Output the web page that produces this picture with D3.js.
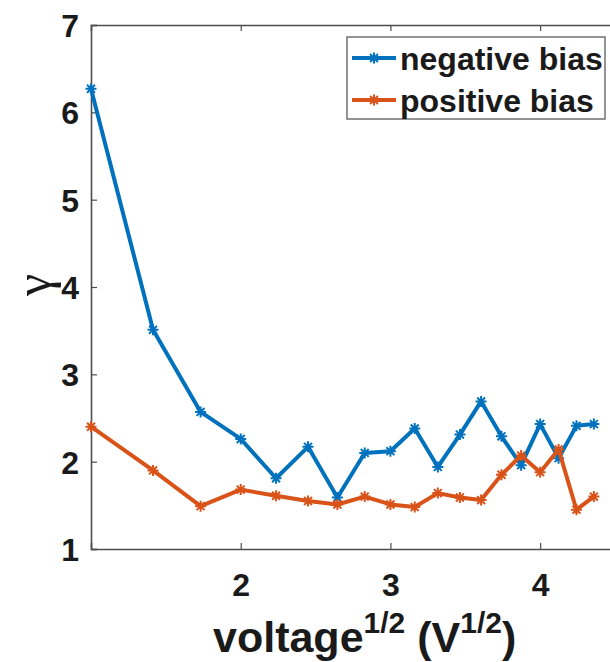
<!DOCTYPE html>
<html>
<head>
<meta charset="utf-8">
<script src="https://cdn.jsdelivr.net/npm/d3@7"></script>
<style>
  html, body { margin: 0; padding: 0; background: #fff; overflow: hidden; }
  svg { display: block; }
</style>
</head>
<body>
<svg id="chart" width="610" height="662"></svg>
<script>
// ---- data ----
const voltages = [1,2,3,4,5,6,7,8,9,10,11,12,13,14,15,16,17,18,19];
const negativeBias = [6.27,3.51,2.57,2.26,1.81,2.17,1.59,2.10,2.12,2.38,1.94,2.31,2.69,2.29,1.96,2.43,2.04,2.41,2.43];
const positiveBias = [2.40,1.90,1.49,1.68,1.61,1.55,1.51,1.60,1.51,1.48,1.64,1.59,1.56,1.85,2.07,1.88,2.14,1.45,1.60];
const seriesNames = ["negative bias", "positive bias"];
const seriesColors = ["#0072BD", "#D95319"];
const xTicks = [2, 3, 4];
const yTicks = [1, 2, 3, 4, 5, 6, 7];

const svg = d3.select("#chart");
const mLeft = 91, mRight = 615, mTop = 25, mBottom = 549;
const FONT = "Liberation Sans, Arial, sans-serif";
const TXT = "#1a1a1a";

const x = d3.scaleLinear().domain([1, 4.5]).range([mLeft, mRight]);
const y = d3.scaleLinear().domain([1, 7]).range([mBottom, mTop]);

const axisColor = "#4d4d4d";

// axes box
const gx = svg.append("g").attr("transform", `translate(0,${mBottom})`)
  .call(d3.axisBottom(x).tickValues(xTicks).tickSize(-6).tickFormat(d3.format("d")));
const gxTop = svg.append("g").attr("transform", `translate(0,${mTop})`)
  .call(d3.axisTop(x).tickValues(xTicks).tickSize(-6).tickFormat(""));
const gy = svg.append("g").attr("transform", `translate(${mLeft},0)`)
  .call(d3.axisLeft(y).tickValues(yTicks).tickSize(-6).tickFormat(d3.format("d")));

[gx, gxTop, gy].forEach(g => {
  g.select(".domain").attr("stroke", axisColor).attr("stroke-width", 1.6);
  g.selectAll(".tick line").attr("stroke", axisColor).attr("stroke-width", 1.2);
  g.selectAll(".tick text").attr("font-size", 32).attr("font-weight", "bold")
    .attr("font-family", FONT).attr("fill", TXT);
});
gx.selectAll(".tick text").attr("y", 47).attr("dy", 0);
gy.selectAll(".tick text").attr("x", -12).attr("dy", "0.36em");

// series
const series = [negativeBias, positiveBias];
const line = d3.line().x((d, i) => x(Math.sqrt(voltages[i]))).y(d => y(d));

function asterisk(g, cx, cy, r, color) {
  const a = r * 0.72;
  const p = d3.path();
  p.moveTo(cx - r, cy); p.lineTo(cx + r, cy);
  p.moveTo(cx, cy - r); p.lineTo(cx, cy + r);
  p.moveTo(cx - a, cy - a); p.lineTo(cx + a, cy + a);
  p.moveTo(cx - a, cy + a); p.lineTo(cx + a, cy - a);
  g.append("path").attr("d", p.toString()).attr("stroke", color)
    .attr("stroke-width", 2).attr("fill", "none");
}

series.forEach((vals, si) => {
  const g = svg.append("g");
  g.append("path").datum(vals).attr("d", line)
    .attr("fill", "none").attr("stroke", seriesColors[si])
    .attr("stroke-width", 4).attr("stroke-linejoin", "round");
  vals.forEach((v, i) => asterisk(g, x(Math.sqrt(voltages[i])), y(v), 5.5, seriesColors[si]));
});

// legend
const lg = svg.append("g");
lg.append("rect").attr("x", 347).attr("y", 37).attr("width", 258).attr("height", 82)
  .attr("fill", "#fff").attr("stroke", axisColor).attr("stroke-width", 1.2);
seriesNames.forEach((name, i) => {
  const ly = 58 + i * 42;
  lg.append("line").attr("x1", 352).attr("x2", 396).attr("y1", ly).attr("y2", ly)
    .attr("stroke", seriesColors[i]).attr("stroke-width", 4);
  asterisk(lg, 374, ly, 5.5, seriesColors[i]);
  lg.append("text").attr("x", 400).attr("y", ly + 12).attr("font-size", 32)
    .attr("font-weight", "bold").attr("font-family", FONT).attr("fill", TXT).text(name);
});

// axis labels
const xl = svg.append("text").attr("x", 213).attr("y", 652).attr("font-size", 43)
  .attr("font-weight", "bold").attr("font-family", FONT).attr("fill", TXT);
xl.append("tspan").text("voltage");
xl.append("tspan").attr("dy", -19).attr("font-size", 30).text("1/2");
xl.append("tspan").attr("dy", 19).attr("font-size", 43).text(" (V");
xl.append("tspan").attr("dy", -19).attr("font-size", 30).text("1/2");
xl.append("tspan").attr("dy", 19).attr("font-size", 43).text(")");

svg.append("text").attr("transform", "translate(50,285) rotate(-90)")
  .attr("text-anchor", "middle").attr("font-size", 50).attr("font-weight", "normal")
  .attr("font-family", "Liberation Serif, Times New Roman, serif").attr("fill", TXT).text("γ");
</script>
</body>
</html>
